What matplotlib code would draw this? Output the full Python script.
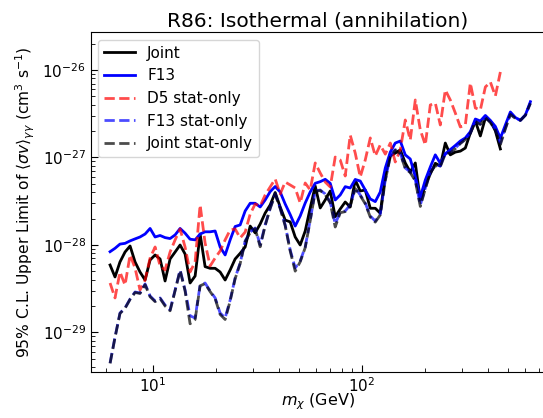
import matplotlib
matplotlib.use("Agg")
import matplotlib.pyplot as plt
from matplotlib.ticker import FixedLocator, LogLocator, NullFormatter

# Dark-matter mass grid (GeV)
mass = [6.25, 6.60, 6.97, 7.37, 7.79, 8.23, 8.69, 9.19, 9.71, 10.26,
        10.84, 11.45, 12.10, 12.79, 13.51, 14.27, 15.08, 15.94, 16.84, 17.79,
        18.80, 19.87, 20.99, 22.18, 23.44, 24.76, 26.17, 27.65, 29.22, 30.87,
        32.62, 34.46, 36.41, 38.48, 40.66, 42.96, 45.39, 47.96, 50.68, 53.55,
        56.58, 59.78, 63.17, 66.74, 70.52, 74.51, 78.73, 83.19, 87.90, 92.88,
        98.13, 103.7, 109.6, 115.8, 122.3, 129.3, 136.6, 144.3, 152.5, 161.1,
        170.2, 179.9, 190.1, 200.9, 212.2, 224.2, 236.9, 250.3, 264.5, 279.5,
        295.3, 312.0, 329.7, 348.4, 368.1, 389.0, 411.0, 434.3, 458.9, 484.8,
        512.3, 541.3, 572.0, 604.4, 638.6]

joint = [5.88e-29, 4.29e-29, 6.37e-29, 8.28e-29, 9.70e-29, 6.37e-29, 4.89e-29, 3.96e-29, 6.71e-29, 7.66e-29,
         6.89e-29, 3.86e-29, 6.89e-29, 8.28e-29, 9.96e-29, 7.86e-29, 3.66e-29, 4.40e-29, 1.33e-28, 5.63e-29,
         5.39e-29, 5.39e-29, 4.89e-29, 3.96e-29, 5.16e-29, 6.89e-29, 8.00e-29, 9.45e-29, 1.64e-28, 1.37e-28,
         1.73e-28, 2.31e-28, 2.86e-28, 3.97e-28, 2.71e-28, 1.92e-28, 1.83e-28, 1.23e-28, 9.96e-29, 1.44e-28,
         2.64e-28, 4.71e-28, 2.64e-28, 3.26e-28, 4.13e-28, 2.10e-28, 2.57e-28, 3.09e-28, 2.71e-28, 5.52e-28,
         4.13e-28, 4.24e-28, 2.62e-28, 2.62e-28, 2.30e-28, 6.30e-28, 1.04e-27, 1.12e-27, 1.22e-27, 8.64e-28,
         6.81e-28, 8.64e-28, 3.26e-28, 4.84e-28, 6.46e-28, 8.57e-28, 7.98e-28, 1.46e-27, 1.07e-27, 1.15e-27,
         1.18e-27, 1.28e-27, 1.90e-27, 2.61e-27, 1.76e-27, 2.82e-27, 2.61e-27, 2.01e-27, 1.25e-27]

f13 = [8.35e-29, 9.13e-29, 1.02e-28, 1.04e-28, 1.11e-28, 1.17e-28, 1.23e-28, 1.33e-28, 1.54e-28, 1.23e-28,
       1.28e-28, 1.21e-28, 1.18e-28, 1.30e-28, 1.54e-28, 1.36e-28, 1.16e-28, 1.14e-28, 1.33e-28, 1.41e-28,
       1.41e-28, 1.44e-28, 9.45e-29, 7.66e-29, 1.14e-28, 1.62e-28, 1.69e-28, 2.44e-28, 2.99e-28, 2.99e-28,
       2.71e-28, 3.26e-28, 4.06e-28, 4.65e-28, 4.02e-28, 2.93e-28, 2.22e-28, 1.64e-28, 2.14e-28, 3.01e-28,
       4.02e-28, 5.06e-28, 5.28e-28, 5.62e-28, 5.06e-28, 3.26e-28, 3.72e-28, 4.63e-28, 4.47e-28, 5.59e-28,
       5.37e-28, 4.24e-28, 3.35e-28, 3.12e-28, 4.02e-28, 7.57e-28, 1.15e-27, 1.46e-27, 1.54e-27, 1.07e-27,
       9.59e-28, 6.02e-28, 3.53e-28, 5.52e-28, 7.77e-28, 1.07e-27, 8.57e-28, 1.09e-27, 1.23e-27, 1.37e-27,
       1.54e-27, 1.67e-27, 1.97e-27, 2.75e-27, 2.61e-27, 3.02e-27, 2.65e-27, 2.26e-27, 1.66e-27, 2.35e-27,
       3.31e-27, 2.86e-27, 2.65e-27, 3.06e-27, 4.34e-27]

d5_stat = [3.66e-29, 2.47e-29, 4.89e-29, 3.47e-29, 7.66e-29, 5.43e-29, 3.04e-29, 3.96e-29, 7.07e-29, 9.45e-29,
           5.73e-29, 5.16e-29, 8.28e-29, 1.14e-28, 1.52e-28, 9.45e-29, 4.89e-29, 6.37e-29, 2.86e-28, 1.05e-28,
           5.73e-29, 7.07e-29, 8.51e-29, 1.14e-28, 1.48e-28, 1.52e-28, 1.20e-28, 1.40e-28, 2.25e-28, 2.93e-28,
           2.78e-28, 3.72e-28, 4.59e-28, 5.67e-28, 3.82e-28, 5.23e-28, 4.84e-28, 4.47e-28, 3.01e-28, 5.10e-28,
           4.24e-28, 8.64e-28, 6.64e-28, 5.23e-28, 4.59e-28, 1.01e-27, 9.35e-28, 6.13e-28, 1.80e-27, 1.12e-27,
           5.97e-28, 9.35e-28, 1.67e-27, 1.04e-27, 1.39e-27, 1.09e-27, 1.46e-27, 8.87e-28, 1.22e-27, 2.68e-27,
           1.58e-27, 4.54e-27, 2.06e-27, 1.39e-27, 3.98e-27, 4.19e-27, 2.35e-27, 5.90e-27, 4.54e-27, 3.22e-27,
           2.23e-27, 2.35e-27, 7.10e-27, 3.68e-27, 3.49e-27, 6.39e-27, 7.29e-27, 5.04e-27, 9.49e-27]

f13_stat = [4.45e-30, 8.83e-30, 1.66e-29, 1.90e-29, 2.40e-29, 2.89e-29, 2.81e-29, 3.57e-29, 2.60e-29, 2.28e-29,
            2.47e-29, 2.05e-29, 1.80e-29, 3.04e-29, 5.16e-29, 3.04e-29, 1.54e-29, 1.46e-29, 3.47e-29, 3.66e-29,
            2.97e-29, 2.47e-29, 1.66e-29, 1.46e-29, 2.34e-29, 4.18e-29, 6.20e-29, 1.11e-28, 1.40e-28, 1.56e-28,
            9.96e-29, 1.69e-28, 2.64e-28, 3.82e-28, 2.64e-28, 1.69e-28, 8.73e-29, 5.43e-29, 6.54e-29, 9.45e-29,
            1.92e-28, 4.13e-28, 4.24e-28, 3.82e-28, 3.09e-28, 1.73e-28, 2.38e-28, 2.44e-28, 2.86e-28, 4.47e-28,
            3.72e-28, 3.01e-28, 2.14e-28, 1.87e-28, 2.25e-28, 5.52e-28, 1.04e-27, 1.23e-27, 1.12e-27, 7.57e-28,
            6.81e-28, 5.52e-28, 2.86e-28, 4.47e-28, 6.81e-28, 8.19e-28, 7.98e-28, 1.12e-27, 1.15e-27, 1.28e-27,
            1.46e-27, 1.62e-27, 1.90e-27, 2.61e-27, 2.41e-27, 2.90e-27, 2.54e-27, 2.11e-27, 1.46e-27, 2.17e-27,
            3.14e-27, 2.82e-27, 2.68e-27, 3.06e-27, 4.19e-27]

joint_stat = [4.40e-30, 8.70e-30, 1.64e-29, 1.88e-29, 2.38e-29, 2.85e-29, 2.78e-29, 3.50e-29, 2.55e-29, 2.24e-29,
              2.43e-29, 2.00e-29, 1.76e-29, 3.00e-29, 5.10e-29, 2.98e-29, 1.25e-29, 1.40e-29, 3.40e-29, 3.60e-29,
              2.92e-29, 2.42e-29, 1.60e-29, 1.40e-29, 2.28e-29, 4.10e-29, 6.10e-29, 1.09e-28, 1.38e-28, 1.53e-28,
              9.50e-29, 1.66e-28, 2.60e-28, 3.78e-28, 2.60e-28, 1.65e-28, 8.50e-29, 5.00e-29, 6.40e-29, 9.30e-29,
              1.89e-28, 4.08e-28, 4.18e-28, 3.76e-28, 3.02e-28, 1.60e-28, 2.33e-28, 2.40e-28, 2.80e-28, 4.40e-28,
              3.66e-28, 2.95e-28, 2.08e-28, 1.82e-28, 2.20e-28, 5.45e-28, 1.02e-27, 1.21e-27, 1.10e-27, 7.45e-28,
              6.70e-28, 5.40e-28, 2.75e-28, 4.38e-28, 6.70e-28, 8.05e-28, 7.85e-28, 1.10e-27, 1.13e-27, 1.26e-27,
              1.44e-27, 1.60e-27, 1.88e-27, 2.58e-27, 2.38e-27, 2.87e-27, 2.50e-27, 2.07e-27, 1.40e-27, 2.12e-27,
              3.10e-27, 2.79e-27, 2.65e-27, 3.03e-27, 4.15e-27]

x_major = [10, 100]
y_major = [1e-29, 1e-28, 1e-27, 1e-26]

fig = plt.figure(figsize=(5.43, 4.18), dpi=100)
ax = fig.add_axes([90.7 / 543, 1 - 371.7 / 418, (545 - 90.7) / 543, (371.7 - 32) / 418])

ax.plot(mass[:len(joint)], joint, color='k', lw=2, label='Joint')
ax.plot(mass[:len(f13)], f13, color='b', lw=2, label='F13')
ax.plot(mass[:len(d5_stat)], d5_stat, color='r', lw=2, ls='--', alpha=0.7, label='D5 stat-only')
ax.plot(mass[:len(f13_stat)], f13_stat, color='b', lw=2, ls='--', alpha=0.7, label='F13 stat-only')
ax.plot(mass[:len(joint_stat)], joint_stat, color='k', lw=2, ls='--', alpha=0.7, label='Joint stat-only')

ax.set_xscale('log')
ax.set_yscale('log')
ax.set_xlim(5.05, 750)
ax.set_ylim(3.54e-30, 2.72e-26)
ax.xaxis.set_major_locator(FixedLocator(x_major))
ax.yaxis.set_major_locator(FixedLocator(y_major))
ax.xaxis.set_minor_locator(LogLocator(base=10, subs=range(2, 10), numticks=20))
ax.yaxis.set_minor_locator(LogLocator(base=10, subs=range(2, 10), numticks=20))
ax.xaxis.set_minor_formatter(NullFormatter())
ax.yaxis.set_minor_formatter(NullFormatter())
ax.tick_params(which='both', direction='in', labelsize=11)
ax.tick_params(which='major', length=5)
ax.tick_params(which='minor', length=3)

ax.set_title('R86: Isothermal (annihilation)', fontsize=14.5, pad=4)
ax.set_xlabel(r'$m_\chi$ (GeV)', fontsize=11.5, labelpad=-3)
ax.set_ylabel(r'95% C.L. Upper Limit of $\langle\sigma v\rangle_{\gamma\gamma}$ (cm$^3$ s$^{-1}$)', fontsize=11.2)
ax.legend(loc='upper left', fontsize=11)

fig.savefig('out.png', dpi=100)
